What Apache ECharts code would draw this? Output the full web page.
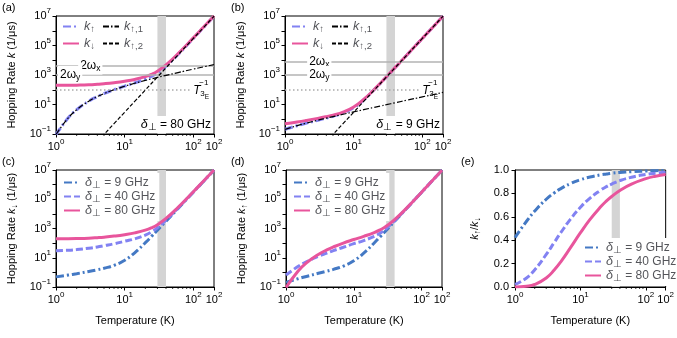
<!DOCTYPE html>
<html>
<head>
<meta charset="utf-8">
<script src="https://cdn.jsdelivr.net/npm/echarts@6/dist/echarts.min.js"></script>
<style>
html, body { margin: 0; padding: 0; background: #fff; }
#main { width: 677px; height: 338px; }
</style>
</head>
<body>
<div id="main"></div>
<script>
// temperatures (K) where the curves are sampled
const temps = [1, 1.5, 2, 3, 4, 5, 7, 10, 14, 20, 25, 30, 40, 60, 100, 140, 200];
const tempsK2 = [4, 5, 7, 10, 14, 20, 30, 40, 60, 100, 140, 200];

// hopping rates (1/us)
const kUp80 = [0.092, 1.2, 4.4, 16.8, 34.4, 54.9, 101, 176, 290, 523, 849, 1410, 4020, 24800, 3.03e5, 1.62e6, 9.6e6];
const kDown80 = [200, 201, 205, 217, 235, 255, 302, 380, 502, 768, 1150, 1830, 4870, 28200, 3.27e5, 1.71e6, 9.98e6];
const kUp1_80 = [0.092, 1.2, 4.4, 16.8, 34.4, 54.8, 100, 173, 274, 427, 556, 685, 945, 1460, 2510, 3550, 5110];
const kUp2 = [0.0307, 0.0938, 0.504, 3.0, 16.1, 96, 729, 3070, 23300, 3.0e5, 1.61e6, 9.6e6];

const kUp9 = [0.208, 0.366, 0.528, 0.861, 1.21, 1.61, 2.67, 6.16, 20.6, 103, 301, 739, 3090, 23400, 3.0e5, 1.61e6, 9.6e6];
const kDown9 = [0.493, 0.651, 0.813, 1.15, 1.51, 1.91, 3.02, 6.71, 21.9, 107, 312, 760, 3150, 23700, 3.03e5, 1.62e6, 9.64e6];
const kUp1_9 = [0.208, 0.366, 0.527, 0.854, 1.18, 1.51, 2.17, 3.16, 4.48, 6.46, 8.11, 9.75, 13.1, 19.6, 32.8, 46.0, 65.8];

const kUp40 = [0.659, 2.51, 5.3, 12.5, 21, 31, 52, 92, 150, 290, 520, 1000, 3400, 23800, 3.01e5, 1.61e6, 9.6e6];
const kDown40 = [30.7, 32.5, 36.2, 45, 54.9, 66.8, 90, 135, 197, 351, 606, 1140, 3740, 25400, 3.13e5, 1.66e6, 9.79e6];

// k_up / k_down
const ratio9 = [0.422, 0.562, 0.649, 0.750, 0.806, 0.841, 0.884, 0.917, 0.940, 0.958, 0.966, 0.972, 0.979, 0.986, 0.991, 0.994, 0.996];
const ratio40 = [0.0215, 0.0773, 0.147, 0.278, 0.383, 0.464, 0.578, 0.681, 0.760, 0.825, 0.858, 0.880, 0.909, 0.938, 0.962, 0.973, 0.981];
const ratio80 = [0.0005, 0.006, 0.0215, 0.0773, 0.147, 0.215, 0.334, 0.464, 0.578, 0.681, 0.736, 0.774, 0.825, 0.880, 0.926, 0.947, 0.962];

// reference levels
const omegaA = [4000, 1100];   // 2wx, 2wy in (a)
const omegaB = [7500, 1100];   // 2wx, 2wy in (b)
const invT3E = 100;
const band = [30, 40];
const minorT = [2, 3, 4, 5, 6, 7, 8, 9, 20, 30, 40, 50, 60, 70, 80, 90];

const FONT = 'Liberation Sans, Arial, Helvetica, sans-serif';
const PINK = '#e8559c';
const VIOLET = '#8282f2';
const BLUE = '#4479c4';
const DASHDOT = [8, 3, 2, 3];
const DASHDOT_THIN = [6, 2, 1.5, 2];
const DASHED = [7, 3];
const DASHED_THIN = [4, 2];

function pts(xs, ys) { return xs.map((x, i) => [x, ys[i]]); }

function line(name, g, xs, ys, color, width, type, z) {
    return {
        name: name, type: 'line', xAxisIndex: g, yAxisIndex: g,
        data: pts(xs, ys), symbol: 'none', showSymbol: false,
        smooth: 0.5, z: z || 3,
        lineStyle: { color: color, width: width, type: type, cap: 'butt' },
        itemStyle: { color: color }
    };
}

// background stuff: grey band + horizontal reference lines
function bgSeries(g, lines) {
    return {
        type: 'line', xAxisIndex: g, yAxisIndex: g, data: [], z: 1, silent: true,
        markArea: { silent: true, itemStyle: { color: '#d4d4d4' }, data: [[{ xAxis: band[0] }, { xAxis: band[1] }]] },
        markLine: lines ? { silent: true, symbol: ['none', 'none'], label: { show: false }, data: lines } : undefined
    };
}

function refLines(om) {
    return [
        { yAxis: om[0], lineStyle: { color: '#b3b3b3', width: 1.5, type: 'solid' } },
        { yAxis: om[1], lineStyle: { color: '#b3b3b3', width: 1.5, type: 'solid' } },
        [{ coord: [1, invT3E], lineStyle: { color: '#aaaaaa', width: 1.5, type: [1.5, 2.5] } }, { coord: [92, invT3E] }]
    ];
}

const sub = { fontSize: 9.5, fontFamily: FONT, verticalAlign: 'bottom', lineHeight: 9 };
const legendRich = {
    k: { fontSize: 12.5, fontStyle: 'italic', fontFamily: FONT, lineHeight: 15 },
    s: sub,
    t: { fontSize: 12, fontFamily: FONT, lineHeight: 15 }
};
const legendText = {
    a_up: '{k|k}{s|\u2191}', a_dn: '{k|k}{s|\u2193}', a_up1: '{k|k}{s|\u2191,1}', a_up2: '{k|k}{s|\u2191,2}',
    b_up: '{k|k}{s|\u2191}', b_dn: '{k|k}{s|\u2193}', b_up1: '{k|k}{s|\u2191,1}', b_up2: '{k|k}{s|\u2191,2}'
};
['c', 'd', 'e'].forEach(p => {
    legendText[p + '9'] = '{k|\u03b4}{s|\u22a5}{t| = 9 GHz}';
    legendText[p + '40'] = '{k|\u03b4}{s|\u22a5}{t| = 40 GHz}';
    legendText[p + '80'] = '{k|\u03b4}{s|\u22a5}{t| = 80 GHz}';
});

function legend(data, left, top, gap) {
    return {
        data: data, left: left, top: top, orient: 'vertical', selectedMode: false,
        itemWidth: 16, itemHeight: 10, itemGap: gap, padding: [3, 4, 3, 4],
        backgroundColor: '#fff',
        itemStyle: { opacity: 0 },
        formatter: n => legendText[n],
        textStyle: { rich: legendRich, fontFamily: FONT }
    };
}

function powLabel(v) {
    const e = Math.round(Math.log10(v));
    return '{b|10}{e|' + (e < 0 ? '\u2212' + (-e) : e) + '}';
}
const powRich = {
    b: { fontSize: 11, fontFamily: FONT, color: '#000', lineHeight: 18 },
    e: { fontSize: 8, fontFamily: FONT, color: '#000', verticalAlign: 'top', lineHeight: 9 }
};

const grids = [
    { left: 56, top: 16, width: 158, height: 118 },
    { left: 285, top: 16, width: 158, height: 118 },
    { left: 56, top: 170, width: 158, height: 117 },
    { left: 286, top: 170, width: 156, height: 117 },
    { left: 515, top: 170, width: 157, height: 117 }
].map(g => Object.assign({ show: true, borderColor: '#000', borderWidth: 1, backgroundColor: 'transparent' }, g));

const xAxes = grids.map((g, i) => ({
    type: 'log', logBase: 10, min: 1, max: 200, gridIndex: i,
    name: i >= 2 ? 'Temperature (K)' : '', nameLocation: 'middle', nameGap: 28,
    nameTextStyle: { fontSize: 11, fontFamily: FONT, color: '#000' },
    axisLine: { lineStyle: { color: '#000', width: 1 } },
    axisTick: { length: 3.5, lineStyle: { color: '#000' } },
    axisLabel: { margin: 4, formatter: powLabel, rich: powRich },
    splitLine: { show: false }
}));

const yName = {
    a: 'Hopping Rate {i|k} (1/\u03bcs)',
    c: 'Hopping Rate {i|k}{s|\u2193} (1/\u03bcs)',
    d: 'Hopping Rate {i|k}{s|\u2191} (1/\u03bcs)',
    e: '{i|k}{s|\u2191}/{i|k}{s|\u2193}'
};
const nameRich = {
    i: { fontSize: 11, fontStyle: 'italic', fontFamily: FONT, color: '#000', lineHeight: 14 },
    s: { fontSize: 8.5, fontFamily: FONT, color: '#000', verticalAlign: 'bottom', lineHeight: 8 }
};

const yAxes = grids.map((g, i) => {
    const base = {
        gridIndex: i, nameLocation: 'middle', nameGap: 37,
        nameTextStyle: { fontSize: 11, fontFamily: FONT, color: '#000', rich: nameRich, lineHeight: 14 },
        axisLine: { show: true, lineStyle: { color: '#000', width: 1 } },
        axisTick: { show: true, length: 3.5, lineStyle: { color: '#000' } },
        splitLine: { show: false }
    };
    if (i === 4) {
        return Object.assign(base, {
            type: 'value', min: 0, max: 1, interval: 0.2, name: yName.e, nameGap: 33,
            axisLabel: { margin: 6, fontSize: 11, fontFamily: FONT, color: '#000', formatter: v => v.toFixed(1) }
        });
    }
    return Object.assign(base, {
        type: 'log', logBase: 10, min: 0.1, max: 1e7, interval: 1,
        name: i < 2 ? yName.a : (i === 2 ? yName.c : yName.d),
        axisLabel: {
            margin: 5, rich: powRich,
            formatter: v => (Math.round(Math.log10(v)) % 2 !== 0 ? powLabel(v) : '')
        }
    });
});

const series = [
    bgSeries(0, refLines(omegaA)),
    bgSeries(1, refLines(omegaB)),
    bgSeries(2), bgSeries(3), bgSeries(4),
    // (a)
    line('a_dn', 0, temps, kDown80, PINK, 3, 'solid', 4),
    line('a_up', 0, temps, kUp80, VIOLET, 3, DASHDOT, 3),
    line('a_up1', 0, temps, kUp1_80, '#000', 1.2, DASHDOT_THIN, 5),
    line('a_up2', 0, tempsK2, kUp2, '#000', 1.2, DASHED_THIN, 5),
    // (b)
    line('b_dn', 1, temps, kDown9, PINK, 3, 'solid', 4),
    line('b_up', 1, temps, kUp9, VIOLET, 3, DASHDOT, 3),
    line('b_up1', 1, temps, kUp1_9, '#000', 1.2, DASHDOT_THIN, 5),
    line('b_up2', 1, tempsK2, kUp2, '#000', 1.2, DASHED_THIN, 5),
    // (c) k_down
    line('c9', 2, temps, kDown9, BLUE, 3, DASHDOT, 3),
    line('c40', 2, temps, kDown40, VIOLET, 3, DASHED, 3),
    line('c80', 2, temps, kDown80, PINK, 3, 'solid', 4),
    // (d) k_up
    line('d9', 3, temps, kUp9, BLUE, 3, DASHDOT, 3),
    line('d40', 3, temps, kUp40, VIOLET, 3, DASHED, 3),
    line('d80', 3, temps, kUp80, PINK, 3, 'solid', 4),
    // (e) ratio
    line('e9', 4, temps, ratio9, BLUE, 3, DASHDOT, 3),
    line('e40', 4, temps, ratio40, VIOLET, 3, DASHED, 3),
    line('e80', 4, temps, ratio80, PINK, 3, 'solid', 4)
];

const option = {
    animation: false,
    backgroundColor: '#fff',
    textStyle: { fontFamily: FONT },
    grid: grids,
    xAxis: xAxes,
    yAxis: yAxes,
    legend: [
        legend(['a_up', 'a_dn'], 58, 17, 3),
        legend(['a_up1', 'a_up2'], 98, 17, 3),
        legend(['b_up', 'b_dn'], 287, 17, 3),
        legend(['b_up1', 'b_up2'], 327, 17, 3),
        legend(['c9', 'c40', 'c80'], 59, 173, 0),
        legend(['d9', 'd40', 'd80'], 289, 173, 0),
        legend(['e9', 'e40', 'e80'], 580, 238, 0)
    ],
    series: series
};

const chart = echarts.init(document.getElementById('main'));
chart.setOption(option);

// annotations placed with the chart's own coordinate conversion
const px = (g, x, y) => chart.convertToPixel({ gridIndex: g }, [x, y]);
const gfx = [];
grids.forEach((g, i) => {
    minorT.forEach(t => {
        const p = px(i, t, i === 4 ? 0 : 0.1);
        gfx.push({ type: 'line', silent: true, z: 10, shape: { x1: p[0], y1: p[1], x2: p[0], y2: p[1] + 2 }, style: { stroke: '#000', lineWidth: 0.8 } });
    });
});

function txt(x, y, rich, text, align, valign, bg) {
    return {
        type: 'text', x: x, y: y, z: 20, silent: true,
        style: {
            text: text, rich: rich, align: align || 'left', verticalAlign: valign || 'middle',
            font: '11px ' + FONT, fill: '#000',
            backgroundColor: bg || null, padding: bg ? [1, 2, 1, 2] : 0
        }
    };
}
const omRich = {
    n: { fontSize: 12, fontFamily: FONT, color: '#000', lineHeight: 15 },
    s: { fontSize: 8.5, fontFamily: FONT, color: '#000', verticalAlign: 'bottom', lineHeight: 8 }
};
// omega labels
let p = px(0, 2.1, omegaA[0]); gfx.push(txt(p[0], p[1], omRich, '{n|2\u03c9}{s|x}', 'left', 'middle', '#fff'));
p = px(0, 1.07, omegaA[1]); gfx.push(txt(p[0], p[1], omRich, '{n|2\u03c9}{s|y}', 'left', 'middle', '#fff'));
p = px(1, 2.1, omegaB[0]); gfx.push(txt(p[0], p[1], omRich, '{n|2\u03c9}{s|x}', 'left', 'middle', '#fff'));
p = px(1, 2.1, omegaB[1]); gfx.push(txt(p[0], p[1], omRich, '{n|2\u03c9}{s|y}', 'left', 'middle', '#fff'));

// T_3E^-1 labels
[0, 1].forEach(g => {
    const q = px(g, 100, invT3E);
    gfx.push({ type: 'text', x: q[0], y: q[1] + 1, z: 20, silent: true, style: { text: 'T', font: 'italic 12px ' + FONT, fill: '#000', verticalAlign: 'middle' } });
    gfx.push({ type: 'text', x: q[0] + 6, y: q[1] - 6.5, z: 20, silent: true, style: { text: '\u22121', font: '8px ' + FONT, fill: '#000', verticalAlign: 'middle' } });
    gfx.push({ type: 'text', x: q[0] + 7, y: q[1] + 4.5, z: 20, silent: true, style: { text: '3', font: '8px ' + FONT, fill: '#000', verticalAlign: 'middle' } });
    gfx.push({ type: 'text', x: q[0] + 11.5, y: q[1] + 7, z: 20, silent: true, style: { text: 'E', font: '6.5px ' + FONT, fill: '#000', verticalAlign: 'middle' } });
});

// delta labels (a), (b)
const dRich = {
    k: { fontSize: 12.5, fontStyle: 'italic', fontFamily: FONT, lineHeight: 15 },
    s: sub,
    t: { fontSize: 12, fontFamily: FONT, lineHeight: 15 }
};
p = px(0, 200, 0.1); gfx.push(txt(p[0] - 1, p[1] - 1, dRich, '{k|\u03b4}{s|\u22a5}{t| = 80 GHz}', 'right', 'bottom', '#fff'));
p = px(1, 200, 0.1); gfx.push(txt(p[0] - 1, p[1] - 1, dRich, '{k|\u03b4}{s|\u22a5}{t| = 9 GHz}', 'right', 'bottom', '#fff'));

// panel letters
[['(a)', 2, 2], ['(b)', 231, 2], ['(c)', 2, 156], ['(d)', 231, 156], ['(e)', 461, 156]].forEach(l => {
    gfx.push({ type: 'text', x: l[1], y: l[2], z: 20, silent: true, style: { text: l[0], font: '11px ' + FONT, fill: '#000' } });
});

chart.setOption({ graphic: gfx });
</script>
</body>
</html>
